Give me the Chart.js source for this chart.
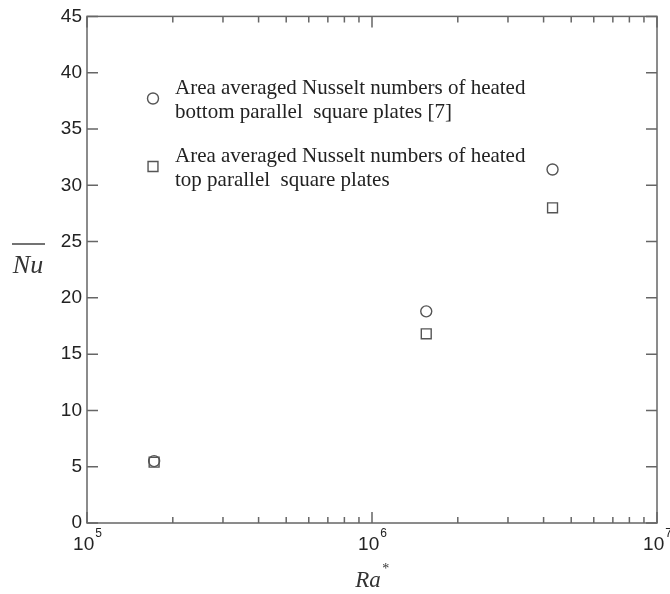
<!DOCTYPE html>
<html>
<head>
<meta charset="utf-8">
<title>Nu vs Ra*</title>
<script src="https://cdn.jsdelivr.net/npm/chart.js@4.4.0/dist/chart.umd.min.js"></script>
<style>
  html, body { margin: 0; padding: 0; background: #fff; }
  canvas { display: block; }
</style>
</head>
<body>
<canvas id="nuChart" width="670" height="594"></canvas>
<script>
"use strict";

// modified Rayleigh number for each case
const raStar = [1.72e5, 1.55e6, 4.3e6];
// area averaged Nusselt numbers
const nuBottom = [5.5, 18.8, 31.4];   // heated bottom plates [7]
const nuTop = [5.4, 16.8, 28.0];      // heated top plates
// axis ticks
const yTicks = [0, 5, 10, 15, 20, 25, 30, 35, 40, 45];
const xDecades = [1e5, 1e6, 1e7];
const xExponents = ['5', '6', '7'];

const labelBottom = ['Area averaged Nusselt numbers of heated', 'bottom parallel  square plates [7]'];
const labelTop = ['Area averaged Nusselt numbers of heated', 'top parallel  square plates'];

const ink = '#666';
const serif = '"Liberation Serif", "Times New Roman", serif';
const sans = '"Liberation Sans", Arial, sans-serif';

function toPoints(xs, ys) {
  return xs.map((x, i) => ({ x: x, y: ys[i] }));
}

// frame, inward ticks, x labels with exponents, axis titles and legend
const decorations = {
  id: 'decorations',
  afterDraw(chart) {
    const ctx = chart.ctx;
    const area = chart.chartArea;
    const xs = chart.scales.x;
    const ys = chart.scales.y;
    ctx.save();
    ctx.strokeStyle = ink;
    ctx.lineWidth = 1.5;
    ctx.strokeRect(area.left, area.top, area.right - area.left, area.bottom - area.top);

    // y ticks on both sides
    ctx.beginPath();
    yTicks.forEach(v => {
      const py = ys.getPixelForValue(v);
      ctx.moveTo(area.left, py); ctx.lineTo(area.left + 11, py);
      ctx.moveTo(area.right, py); ctx.lineTo(area.right - 11, py);
    });
    // x ticks top and bottom, minor ones shorter
    xDecades.forEach((d, i) => {
      for (let m = 1; m <= 9; m++) {
        if (i === xDecades.length - 1 && m > 1) break;
        const px = xs.getPixelForValue(d * m);
        const len = m === 1 ? 11 : 6;
        ctx.moveTo(px, area.bottom); ctx.lineTo(px, area.bottom - len);
        ctx.moveTo(px, area.top); ctx.lineTo(px, area.top + len);
      }
    });
    ctx.stroke();

    // x tick labels 10^n
    ctx.fillStyle = '#222';
    ctx.textBaseline = 'middle';
    xDecades.forEach((d, i) => {
      const px = xs.getPixelForValue(d);
      ctx.font = '19px ' + sans;
      const w1 = ctx.measureText('10').width;
      ctx.font = '12px ' + sans;
      const w2 = ctx.measureText(xExponents[i]).width;
      const left = px - (w1 + w2) / 2;
      ctx.font = '19px ' + sans;
      ctx.textAlign = 'left';
      ctx.fillText('10', left, 545);
      ctx.font = '12px ' + sans;
      ctx.fillText(xExponents[i], left + w1 + 1, 534);
    });

    // axis titles
    ctx.fillStyle = '#333';
    ctx.textAlign = 'center';
    ctx.font = 'italic 26px ' + serif;
    ctx.fillText('Nu', 28, 266);
    ctx.beginPath();
    ctx.lineWidth = 1.5;
    ctx.strokeStyle = '#444';
    ctx.moveTo(12, 244); ctx.lineTo(45, 244);
    ctx.stroke();

    ctx.font = 'italic 23px ' + serif;
    const raW = ctx.measureText('Ra').width;
    ctx.fillText('Ra', 368, 581);
    ctx.font = '14px ' + serif;
    ctx.fillText('*', 368 + raW / 2 + 5, 569);

    // legend
    const entries = [
      { ds: chart.data.datasets[0], y: 88 },
      { ds: chart.data.datasets[1], y: 156 }
    ];
    ctx.textAlign = 'left';
    ctx.font = '21px ' + serif;
    entries.forEach(e => {
      ctx.fillStyle = '#222';
      e.ds.label.forEach((line, k) => {
        ctx.fillText(line, 175, e.y + k * 24.5);
      });
      ctx.fillStyle = '#fff';
      ctx.strokeStyle = e.ds.borderColor;
      ctx.lineWidth = e.ds.borderWidth;
      Chart.helpers.drawPoint(ctx, {
        pointStyle: e.ds.pointStyle,
        radius: e.ds.pointRadius,
        borderWidth: e.ds.borderWidth,
        rotation: 0
      }, 153, e.y + 10.5);
    });
    ctx.restore();
  }
};

new Chart(document.getElementById('nuChart'), {
  type: 'scatter',
  data: {
    datasets: [
      {
        label: labelBottom,
        data: toPoints(raStar, nuBottom),
        pointStyle: 'circle',
        pointRadius: 5.5,
        borderColor: '#555',
        backgroundColor: 'rgba(0,0,0,0)',
        borderWidth: 1.4
      },
      {
        label: labelTop,
        data: toPoints(raStar, nuTop),
        pointStyle: 'rect',
        pointRadius: 7,
        borderColor: '#555',
        backgroundColor: 'rgba(0,0,0,0)',
        borderWidth: 1.4
      }
    ]
  },
  options: {
    responsive: false,
    animation: false,
    layout: { padding: { top: 15, right: 13, bottom: 0, left: 0 } },
    plugins: {
      legend: { display: false },
      tooltip: { enabled: false }
    },
    scales: {
      x: {
        type: 'logarithmic',
        min: 1e5,
        max: 1e7,
        grid: { display: false },
        border: { display: false },
        ticks: { display: false },
        afterFit(scale) { scale.height = 71; }
      },
      y: {
        min: 0,
        max: 45,
        grid: { display: false, drawTicks: false },
        border: { display: false },
        ticks: {
          stepSize: 5,
          padding: 5,
          color: '#222',
          font: { family: sans, size: 19 }
        },
        afterFit(scale) { scale.width = 87; }
      }
    }
  },
  plugins: [decorations]
});
</script>
</body>
</html>
